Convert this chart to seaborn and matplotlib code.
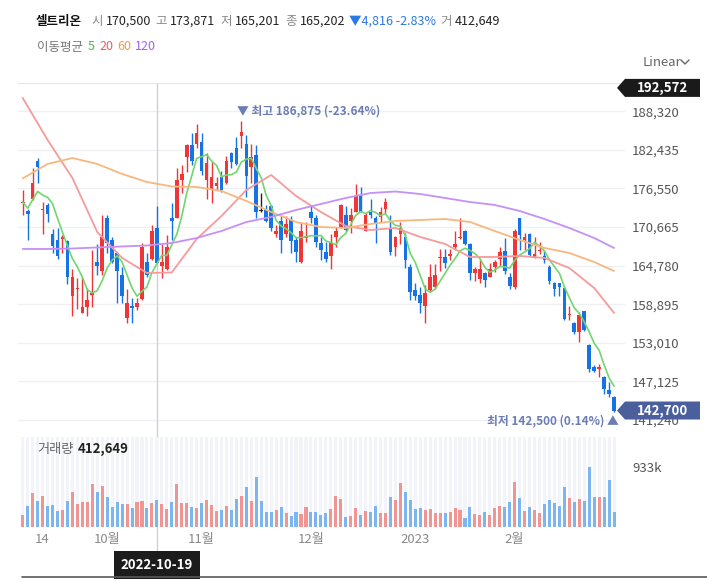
import numpy as np
import pandas as pd
import matplotlib.pyplot as plt
import matplotlib.transforms as mtransforms
from matplotlib.lines import Line2D
from matplotlib.patches import Polygon
import seaborn as sns

# 셀트리온 daily candles (won), one row per trading day, 2022-09-06 .. 2023-03-02
opens = [174300, 173100, 175000, 180800, 173200, 174000, 169600, 168700, 168800, 168600,
         160100, 161200, 157600, 158500, 160300, 165300, 163900, 172100, 168700, 166700,
         163400, 156800, 158600, 158500, 159700, 165300, 165800, 170500, 164800, 164300,
         172100, 172100, 177900, 181300, 183200, 183300, 183600, 177900, 176300, 176900,
         178300, 177400, 182000, 182700, 184500, 183300, 179900, 181700, 173100, 173300,
         173900, 169600, 171600, 169600, 171800, 168700, 165400, 169000, 173000, 172000,
         168300, 166800, 166300, 169200, 170600, 172500, 171600, 173000, 175400, 170100,
         173000, 172000, 172200, 173400, 170600, 167700, 169600, 169200, 164600, 161100,
         160300, 158600, 161100, 161500, 165900, 166100, 166200, 167700, 169000, 170100,
         168100, 163600, 162700, 163600, 163100, 164600, 165800, 167000, 163100, 161600,
         172000, 168700, 169600, 166000, 167000, 166200, 164600, 162200, 162100, 161400,
         157300, 156100, 154600, 157800, 152700, 149400, 149100, 147800, 145900, 144800]
highs = [176300, 173400, 179700, 181200, 174500, 174300, 170400, 170500, 169500, 168700,
         164300, 162900, 163100, 161400, 167200, 168100, 172500, 172500, 169200, 166900,
         164600, 161300, 159900, 159900, 168200, 166700, 171000, 173871, 168100, 169500,
         174400, 179600, 180100, 183400, 185000, 186400, 185000, 181900, 180600, 178300,
         179200, 181500, 182100, 184400, 186875, 184700, 183400, 183200, 175900, 174000,
         174000, 171000, 172300, 172300, 172300, 169200, 171500, 171500, 174000, 172500,
         169200, 168400, 169600, 170700, 174200, 173900, 173500, 177300, 176800, 172800,
         174900, 172300, 173800, 175100, 172500, 169300, 171500, 169800, 165100, 162100,
         161600, 161800, 165000, 165000, 167400, 167300, 167400, 170000, 172000, 170200,
         168300, 164600, 165700, 163800, 165200, 165700, 167600, 169000, 163600, 170300,
         172100, 169800, 169800, 169100, 168400, 167200, 164900, 162300, 162200, 161500,
         158600, 156200, 157700, 157900, 152800, 149600, 149800, 147900, 147100, 144900]
lows = [172500, 168700, 174800, 177400, 169600, 171500, 166700, 165800, 166700, 162000,
        157100, 158200, 157500, 157100, 158500, 163400, 163400, 166700, 165200, 159100,
        159100, 156000, 156000, 158000, 159600, 163100, 165600, 165201, 162900, 164100,
        168700, 172000, 175900, 179100, 180100, 182700, 178600, 174900, 174300, 176300,
        176000, 177300, 179700, 180100, 182700, 175300, 177400, 172000, 173000, 171500,
        170100, 169200, 166700, 169200, 166700, 165400, 165200, 168400, 171300, 167700,
        165700, 165400, 164200, 167700, 170500, 170000, 169700, 172900, 172900, 170000,
        172000, 168200, 171500, 172800, 166400, 166300, 168100, 164500, 159600, 159600,
        157500, 156000, 160800, 161200, 164000, 164400, 165700, 167200, 168800, 168000,
        162600, 162500, 162100, 161600, 163000, 163800, 164700, 163500, 161200, 161300,
        167200, 167200, 166200, 165900, 166500, 165200, 162000, 160100, 160200, 156500,
        156500, 154400, 153200, 154800, 148600, 148500, 147800, 145200, 144800, 142500]
closes = [174500, 172600, 177400, 179900, 173400, 172700, 167800, 166300, 169200, 163000,
          163000, 161400, 158500, 159600, 160600, 164800, 169100, 168200, 165400, 163900,
          160100, 159100, 158400, 159100, 167700, 163400, 170018, 165202, 165400, 167700,
          171600, 177900, 178800, 183200, 180800, 185000, 179200, 180400, 178300, 177400,
          176300, 180700, 180600, 180300, 185100, 178400, 181300, 173000, 173100, 171600,
          170600, 170100, 168700, 171100, 168600, 166800, 170100, 169300, 172000, 168400,
          167200, 165800, 168300, 170100, 174000, 170200, 172500, 175400, 173000, 172500,
          172500, 171100, 173000, 174500, 166800, 169200, 170600, 165700, 160800, 160100,
          159100, 160600, 163000, 163300, 166100, 165200, 166600, 168100, 169200, 168100,
          163600, 164200, 164200, 162600, 164300, 165300, 166900, 163900, 161700, 170100,
          169500, 169200, 166400, 166600, 167100, 165700, 162500, 161300, 161600, 156700,
          157400, 154700, 157200, 155000, 149100, 148800, 149300, 146000, 145200, 142700]
# volume, thousand shares
volumes = [192, 332, 523, 409, 487, 332, 347, 254, 269, 399,
           534, 363, 394, 394, 658, 549, 627, 471, 316, 394,
           363, 363, 300, 394, 409, 300, 378, 412.649, 363, 285,
           394, 658, 378, 378, 316, 300, 378, 425, 347, 254,
           269, 332, 269, 440, 487, 611, 409, 767, 409, 238,
           238, 269, 316, 223, 176, 238, 207, 316, 238, 238,
           192, 223, 285, 487, 440, 161, 176, 300, 192, 254,
           238, 332, 223, 223, 471, 425, 674, 549, 425, 285,
           300, 269, 285, 223, 223, 223, 238, 300, 269, 145,
           316, 207, 192, 238, 192, 300, 332, 316, 394, 689,
           456, 254, 316, 269, 223, 363, 425, 378, 332, 611,
           456, 394, 440, 409, 922, 471, 471, 471, 720, 238]

# moving averages read every 5 sessions
ma_idx = [0, 5, 10, 15, 20, 25, 30, 35, 40, 45, 50, 55, 60, 65, 70, 75, 80, 85, 90, 95,
          100, 105, 110, 115, 119]
ma20 = [190350, 183950, 178150, 169920, 165960, 163670, 163750, 168850, 172360, 176320,
        178610, 175410, 172970, 170830, 170220, 170530, 169160, 168090, 166110, 166110,
        166260, 165960, 164430, 161380, 157570]
ma60 = [178080, 180290, 181200, 180290, 178760, 177540, 176860, 176780, 176170, 174650,
        172970, 171440, 170680, 170530, 171140, 171600, 171750, 171900, 171440, 170070,
        168700, 167480, 166720, 165340, 163970]
ma120 = [167330, 167330, 167400, 167560, 167710, 167860, 168240, 169000, 170070, 171440,
         172210, 173270, 174190, 175100, 175860, 176090, 175710, 175100, 174490, 174040,
         173120, 171900, 170530, 169000, 167480]

price_ticks = [188320, 182435, 176550, 170665, 164780, 158895, 153010, 147125, 141240]
axis_top = 192572
tick_pos = [4, 17, 36, 58, 79, 99]
tick_labels = ["14", "10월", "11월", "12월", "2023", "2월"]
cross_i = 27
cross_date = "2022-10-19"

RED, BLUE = "#ee3638", "#1673e6"
VRED, VBLUE = "#f19494", "#7db5f1"
GREY = "#8a8a8a"

sns.set_style("white")
plt.rcParams['font.family'] = ['Noto Sans CJK KR', 'DejaVu Sans']
plt.rcParams['axes.unicode_minus'] = False

W, H = 707, 581
fig = plt.figure(figsize=(W / 100, H / 100), dpi=100)


def fx(v):
    return v / W


def fy(v):
    return 1 - v / H


ax = fig.add_axes([fx(18), fy(430), fx(625) - fx(18), fy(83.4) - fy(430)])
axv = fig.add_axes([fx(18), fy(527), fx(625) - fx(18), fy(437) - fy(527)])
axv.patch.set_alpha(0)

df = pd.DataFrame(dict(x=np.arange(len(closes)), open=opens, high=highs,
                       low=lows, close=closes, volume=volumes))
up = df.close > df.open
down = df.close < df.open
ccol = np.where(up, RED, np.where(down, BLUE, "#222222"))
vcol = np.where(up, VRED, VBLUE)

# candles
ax.vlines(df.x, df.low, df.high, colors=ccol, lw=1, zorder=3)
body = np.maximum((df.close - df.open).abs(), 170)
ax.bar(df.x, body, bottom=np.minimum(df.open, df.close), width=0.74,
       color=ccol, linewidth=0, zorder=4)

# moving averages
ma5 = df.close.rolling(5, min_periods=1).mean()
sns.lineplot(x=df.x, y=ma5, ax=ax, color="#72d66e", lw=1.2, zorder=5)
sns.lineplot(x=ma_idx, y=ma20, ax=ax, color="#f69a9a", lw=1.3, zorder=5)
sns.lineplot(x=ma_idx, y=ma60, ax=ax, color="#f8b77e", lw=1.3, zorder=5)
sns.lineplot(x=ma_idx, y=ma120, ax=ax, color="#c590f7", lw=1.3, zorder=5)

ax.set_xlim(-0.95, 121.2)
ax.set_ylim(139730, axis_top)
ax.set_yticks(price_ticks)
ax.set_yticklabels([f"{t:,}" for t in price_ticks])
ax.yaxis.tick_right()
ax.tick_params(axis='y', length=0, pad=5, labelsize=9.5, labelcolor="#555555")
ax.set_xticks([])
ax.set_xlabel("")
ax.set_ylabel("")
ax.grid(axis='y', color="#eef0f4", lw=1)
ax.set_axisbelow(True)
for s in ["left", "right", "bottom"]:
    ax.spines[s].set_visible(False)
ax.spines["top"].set_color("#e4e6ec")

# crosshair
ax.axvline(cross_i, ymin=-0.352, ymax=1, clip_on=False, color="#c9cdd8", lw=0.9, zorder=1)

# volume
vtop = 1392
axv.bar(df.x, [vtop] * len(df), width=0.62, color="#f3f4f9", linewidth=0, zorder=0)
axv.bar(df.x, df.volume, width=0.62, color=vcol, linewidth=0, zorder=2)
axv.set_xlim(-0.95, 121.2)
axv.set_ylim(0, vtop)
axv.set_yticks([933])
axv.set_yticklabels(["933k"])
axv.yaxis.tick_right()
axv.tick_params(axis='y', length=0, pad=5, labelsize=9.5, labelcolor="#555555")
axv.set_xticks(tick_pos)
axv.set_xticklabels(tick_labels)
axv.tick_params(axis='x', length=0, pad=4, labelsize=9.5, labelcolor=GREY)
for s in axv.spines.values():
    s.set_visible(False)

# date box under crosshair
bt = mtransforms.blended_transform_factory(ax.transData, fig.transFigure)
ax.text(cross_i, fy(565), cross_date, transform=bt, ha='center', va='center',
        color='white', fontsize=9.5, fontweight='bold', zorder=10,
        bbox=dict(boxstyle='square,pad=0.5', fc='#1c1c1c', ec='none'))
fig.add_artist(Line2D([fx(22), 1], [fy(576.5)] * 2, color="#5a5a5a", lw=1.2))

renderer = fig.canvas.get_renderer()


def text_row(x0, ypx, parts, size):
    # place pieces one after another, each with its own gap before it
    x = x0
    for gap, t, c, wgt in parts:
        x += gap
        tx = fig.text(fx(x), fy(ypx), t, color=c, fontsize=size, va='center', fontweight=wgt)
        x += tx.get_window_extent(renderer).width


# header
row = df.iloc[cross_i]
prev = df.close.iloc[cross_i - 1]
chg = row.close - prev
pct = chg / prev * 100
vol_txt = f"{int(round(row.volume * 1000)):,}"
text_row(36, 21, [
    (0, "셀트리온", "#111111", 'bold'),
    (9, "시", GREY, 'normal'), (3, f"{int(row.open):,}", "#222222", 'medium'),
    (5, "고", GREY, 'normal'), (3, f"{int(row.high):,}", "#222222", 'medium'),
    (5, "저", GREY, 'normal'), (3, f"{int(row.low):,}", "#222222", 'medium'),
    (5, "종", GREY, 'normal'), (3, f"{int(row.close):,}", "#222222", 'medium'),
    (3, f"▼{abs(int(chg)):,} {pct:.2f}%", "#2a78e4", 'medium'),
    (5, "거", GREY, 'normal'), (3, vol_txt, "#222222", 'medium'),
], 9)

text_row(37, 47, [
    (0, "이동평균", "#777777", 'normal'), (5, "5", "#3cc43c", 'normal'),
    (4, "20", "#f05a5a", 'normal'), (4, "60", "#f39a4a", 'normal'),
    (4, "120", "#a45cf0", 'normal'),
], 9)

text_row(37, 449, [
    (0, "거래량", "#666666", 'normal'), (4, vol_txt, "#222222", 'bold'),
], 9.5)

fig.text(fx(643), fy(62), "Linear", color="#666666", fontsize=9.5, va='center')
fig.add_artist(Line2D([fx(681), fx(685), fx(689)], [fy(60), fy(64), fy(60)],
                      color="#666666", lw=1))

# high / low markers
imax = int(df.high.idxmax())
imin = int(df.low.idxmin())
last = df.close.iloc[-1]
hi, lo = df.high.max(), df.low.min()
ANN = "#6b7db4"
ax.text(imax, hi, f"▼ 최고 {hi:,} ({(last - hi) / hi * 100:.2f}%)", ha='left', va='bottom',
        color=ANN, fontsize=8.5, fontweight='bold', zorder=8, clip_on=False,
        transform=mtransforms.offset_copy(ax.transData, fig=fig, x=-4, y=3, units='dots'))
ax.text(imin, lo, f"최저 {lo:,} ({(last - lo) / lo * 100:.2f}%) ▲", ha='right', va='top',
        color=ANN, fontsize=8.5, fontweight='bold', zorder=8, clip_on=False,
        transform=mtransforms.offset_copy(ax.transData, fig=fig, x=5, y=-3, units='dots'))

# price tags on the right axis
to_fig = ax.transData + fig.transFigure.inverted()


def tag(yc_px, text, color):
    pts = [(617, yc_px), (625, yc_px - 9), (700, yc_px - 9), (700, yc_px + 9), (625, yc_px + 9)]
    fig.add_artist(Polygon([(fx(a), fy(b)) for a, b in pts], closed=True,
                           fc=color, ec='none', transform=fig.transFigure, zorder=20))
    fig.text(fx(662), fy(yc_px), text, color='white', fontsize=9.5, fontweight='bold',
             ha='center', va='center', zorder=21)


top_px = (1 - to_fig.transform((0, axis_top))[1]) * H + 4.5
last_px = (1 - to_fig.transform((0, last))[1]) * H
tag(top_px, f"{axis_top:,}", "#1a1a1a")
tag(last_px, f"{last:,}", "#4a5f9c")

fig.savefig("out.png", dpi=100)
